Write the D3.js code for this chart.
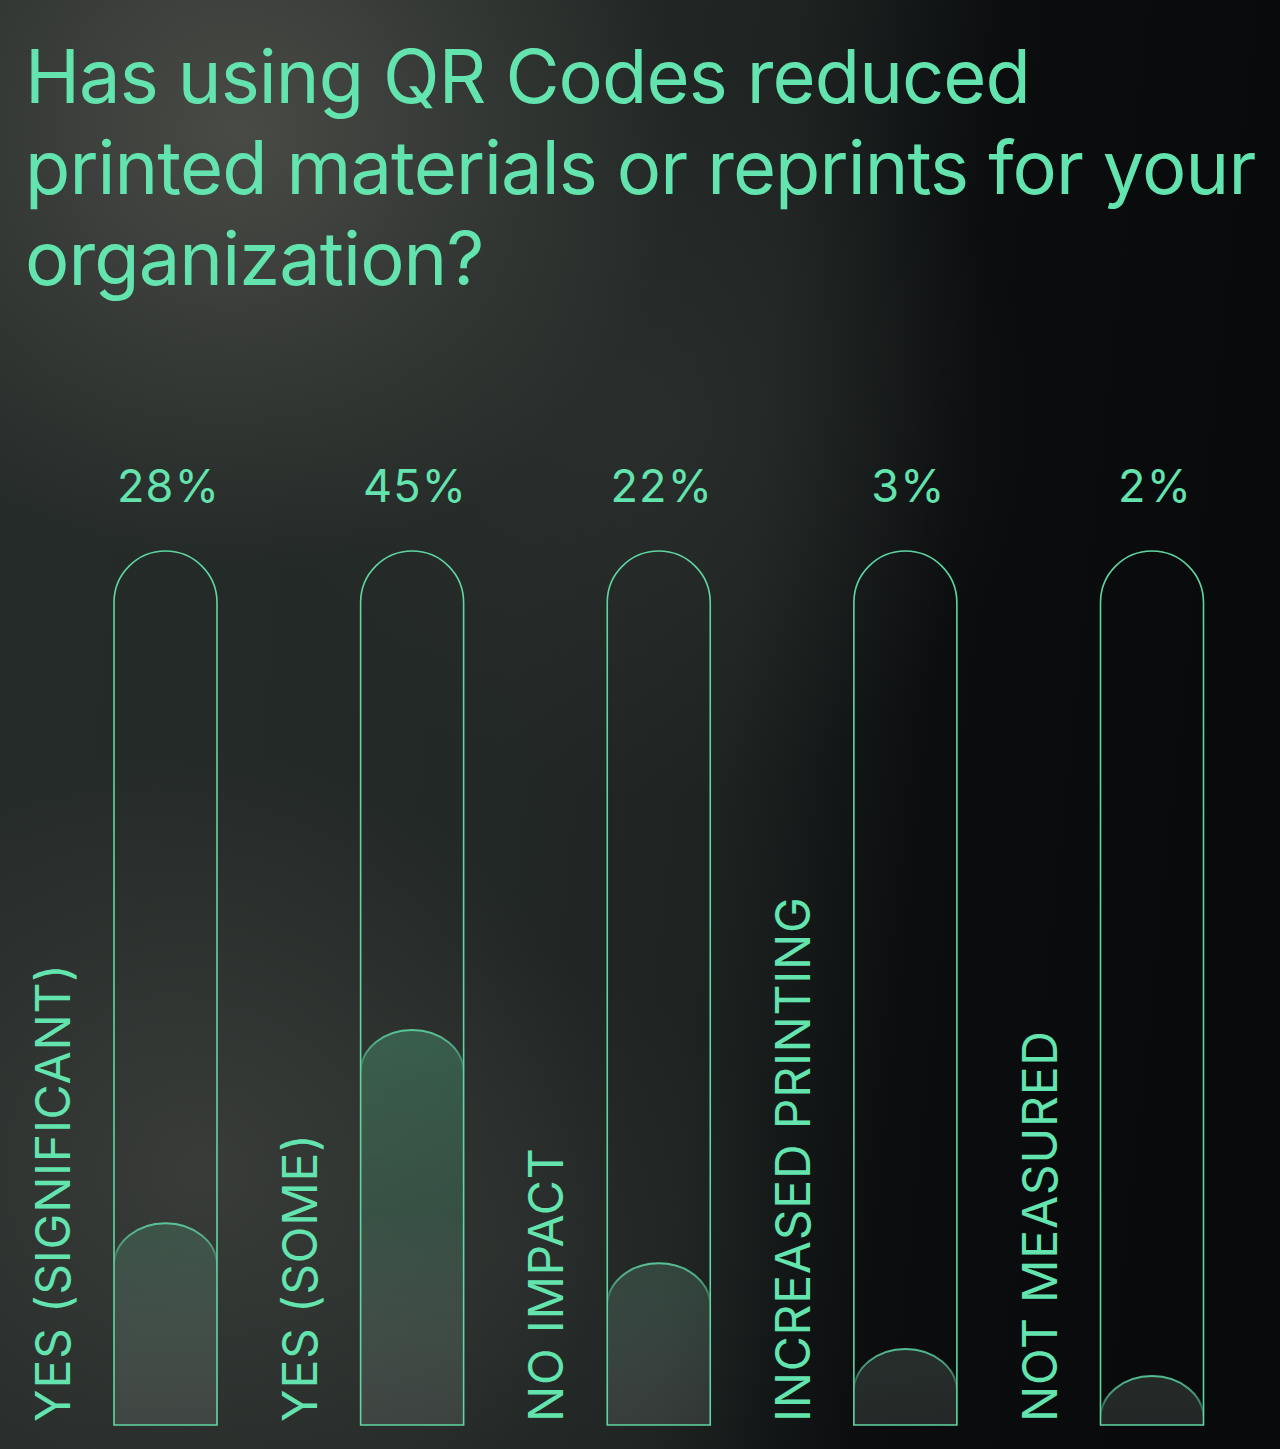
<!DOCTYPE html>
<html>
<head>
<meta charset="utf-8">
<script src="https://cdn.jsdelivr.net/npm/d3@7"></script>
<style>
  html, body { margin: 0; padding: 0; background: #0b0d0e; }
  svg { display: block; }
</style>
</head>
<body>
<svg id="chart" width="1280" height="1449"></svg>
<script>
// ---- data ----
const titleLines = ["Has using QR Codes reduced", "printed materials or reprints for your", "organization?"];
const categories = ["YES (SIGNIFICANT)", "YES (SOME)", "NO IMPACT", "INCREASED PRINTING", "NOT MEASURED"];
const values = [28, 45, 22, 3, 2];
// visible fill level of each pill, in % of the track height
const fillLevels = [23.1, 45.2, 18.5, 8.7, 5.6];

const W = 1280, H = 1449;
const green = "#63e4ae";
const svg = d3.select("#chart");
const defs = svg.append("defs");

// ---- background ----
const bgLin = defs.append("linearGradient").attr("id", "bgLin")
  .attr("x1", "0").attr("y1", "0").attr("x2", "1").attr("y2", "0.12");
[[0, "#262c2a"], [0.45, "#222826"], [0.62, "#1e2322"], [0.72, "#121515"], [0.78, "#0b0d0e"], [1, "#090a0b"]]
  .forEach(([o, c]) => bgLin.append("stop").attr("offset", o).attr("stop-color", c));
svg.append("rect").attr("width", W).attr("height", H).attr("fill", "url(#bgLin)");

function glow(id, cx, cy, r, color, op) {
  const g = defs.append("radialGradient").attr("id", id)
    .attr("gradientUnits", "userSpaceOnUse").attr("cx", cx).attr("cy", cy).attr("r", r);
  g.append("stop").attr("offset", 0).attr("stop-color", color).attr("stop-opacity", op);
  g.append("stop").attr("offset", 0.5).attr("stop-color", color).attr("stop-opacity", op * 0.5);
  g.append("stop").attr("offset", 1).attr("stop-color", color).attr("stop-opacity", 0);
  svg.append("rect").attr("width", W).attr("height", H).attr("fill", `url(#${id})`);
}
glow("g1", 240, 130, 440, "#55554f", 0.75);
glow("g2", 200, 1170, 420, "#4a4b47", 0.55);
glow("g3", 650, 420, 380, "#3a3d3a", 0.35);
glow("g4", 500, 1250, 300, "#3a3d3a", 0.3);

// ---- title ----
const fontFam = "Inter, 'Noto Sans', sans-serif";
svg.append("g").selectAll("text").data(titleLines).join("text")
  .attr("x", 25).attr("y", (d, i) => 103 + i * 91)
  .attr("fill", green).attr("font-family", fontFam)
  .attr("font-size", 74).attr("font-weight", 400).attr("letter-spacing", -0.9)
  .text(d => d);

// ---- scales ----
const x = d3.scalePoint().domain(categories).range([165.5, 1152]);
const y = d3.scaleLinear().domain([0, 100]).range([1425, 551]);
const barW = 103, rx = barW / 2;

function pillPath(cx, top, bottom, ry) {
  const x0 = cx - rx, x1 = cx + rx;
  return `M${x0},${bottom} L${x0},${top + ry} A${rx},${ry} 0 0 1 ${x1},${top + ry} L${x1},${bottom} Z`;
}
function arcPath(cx, top, ry) {
  const x0 = cx - rx, x1 = cx + rx;
  return `M${x0},${top + ry} A${rx},${ry} 0 0 1 ${x1},${top + ry}`;
}

const fillGrad = defs.append("linearGradient").attr("id", "fillGrad")
  .attr("gradientUnits", "userSpaceOnUse").attr("x1", 0).attr("x2", 0).attr("y1", 1000).attr("y2", 1425);
fillGrad.append("stop").attr("offset", 0).attr("stop-color", "#4a9a74").attr("stop-opacity", 0.45);
fillGrad.append("stop").attr("offset", 0.5).attr("stop-color", "#46886a").attr("stop-opacity", 0.34);
fillGrad.append("stop").attr("offset", 1).attr("stop-color", "#9aa6a0").attr("stop-opacity", 0.18);

const rows = categories.map((c, i) => ({ c, v: values[i], f: fillLevels[i], i }));

// clip paths
defs.selectAll("clipPath.track").data(rows).join("clipPath")
  .attr("class", "track").attr("id", d => "clip" + d.i)
  .append("path").attr("d", d => pillPath(x(d.c), y(100), y(0), rx));

// arc stroke gradients (fade down the sides)
rows.forEach(d => {
  const top = y(d.f);
  const g = defs.append("linearGradient").attr("id", "arcG" + d.i)
    .attr("gradientUnits", "userSpaceOnUse").attr("x1", 0).attr("x2", 0)
    .attr("y1", top).attr("y2", top + 44);
  g.append("stop").attr("offset", 0).attr("stop-color", green).attr("stop-opacity", 0.8);
  g.append("stop").attr("offset", 0.6).attr("stop-color", green).attr("stop-opacity", 0.5);
  g.append("stop").attr("offset", 1).attr("stop-color", green).attr("stop-opacity", 0);
});

const bars = svg.append("g").selectAll("g").data(rows).join("g");

bars.append("g").attr("clip-path", d => `url(#clip${d.i})`).call(g => {
  g.append("path").attr("d", d => pillPath(x(d.c), y(d.f), y(0) + 60, 42))
    .attr("fill", "url(#fillGrad)");
  g.append("path").attr("d", d => arcPath(x(d.c), y(d.f), 42))
    .attr("fill", "none").attr("stroke", d => `url(#arcG${d.i})`).attr("stroke-width", 2);
});

bars.append("path").attr("d", d => pillPath(x(d.c), y(100), y(0), rx))
  .attr("fill", "none").attr("stroke", "#5fd6a2").attr("stroke-width", 1.6);

// value labels
bars.append("text")
  .attr("x", d => x(d.c) + 3).attr("y", 502)
  .attr("text-anchor", "middle").attr("fill", green)
  .attr("font-family", fontFam).attr("font-size", 45).attr("letter-spacing", 1.2)
  .text(d => d.v + "%");

// category labels (rotated)
bars.append("text")
  .attr("transform", d => `translate(${x(d.c) - 95.5},1422) rotate(-90)`)
  .attr("fill", green).attr("font-family", fontFam)
  .attr("font-size", 48).attr("letter-spacing", 0.8)
  .text(d => d.c);
</script>
</body>
</html>
